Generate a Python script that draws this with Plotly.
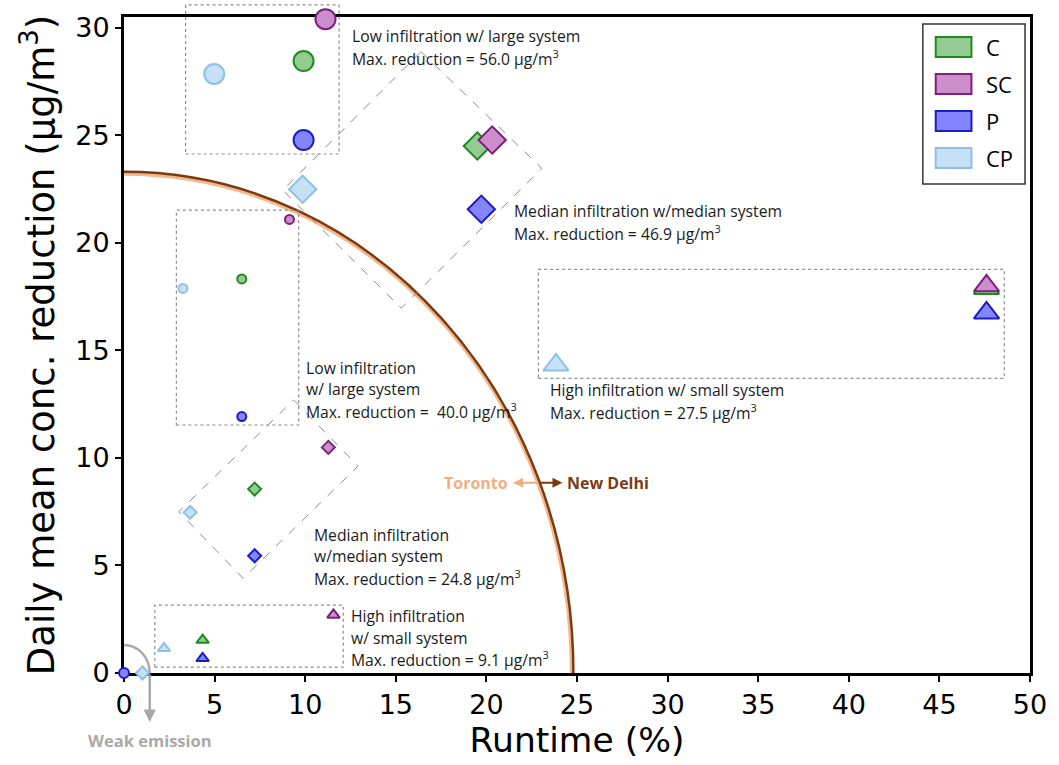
import plotly.graph_objects as go

# ---- series -------------------------------------------------------------
systems = ["C", "SC", "P", "CP"]
fill_colors = ["#93cb93", "#cc8fcc", "#8484ff", "#c6e1f5"]
edge_colors = ["#1f8a1f", "#7d1f7d", "#1c1cc6", "#8cc1e6"]

# New Delhi (large markers)
nd_low_runtime = [9.91, 11.12, 9.91, 4.98]
nd_low_reduction = [28.45, 30.40, 24.78, 27.85]
nd_med_runtime = [19.50, 20.32, 19.72, 9.86]
nd_med_reduction = [24.50, 24.78, 21.56, 22.49]
nd_high_runtime = [47.6, 47.6, 47.6, 23.84]
nd_high_reduction = [17.88, 18.00, 16.74, 14.32]

# Toronto (small markers)
to_low_runtime = [6.50, 9.13, 6.50, 3.25]
to_low_reduction = [18.32, 21.09, 11.92, 17.88]
to_med_runtime = [7.21, 11.28, 7.21, 3.65]
to_med_reduction = [8.55, 10.49, 5.45, 7.47]
to_high_runtime = [4.34, 11.56, 4.34, 2.21]
to_high_reduction = [1.53, 2.70, 0.68, 1.15]

# weak emission case
weak_systems = ["P", "CP"]
weak_symbols = ["circle", "diamond"]
weak_runtime = [0.0, 1.02]
weak_reduction = [0.0, 0.0]

x_ticks = list(range(0, 51, 5))
y_ticks = list(range(0, 31, 5))
X_RANGE = [0, 50]
Y_RANGE = [0, 30.5]

# group outlines (data units)
box_nd_low = (3.40, 11.87, 24.13, 31.06)      # x0, x1, y0, y1
box_to_low = (2.89, 9.64, 11.53, 21.52)
box_nd_high = (22.87, 48.58, 13.70, 18.77)
box_to_high = (1.70, 12.10, 0.27, 3.16)
diamond_nd_med = [(16.39, 28.89), (23.06, 23.46), (15.30, 16.96), (8.76, 22.45)]
diamond_to_med = [(9.36, 12.69), (12.92, 9.62), (6.57, 4.40), (3.03, 7.50)]

# break-even curve between the two cities
curve_runtime = 24.8
curve_reduction = 23.3
weak_runtime_edge = 1.42
weak_reduction_edge = 1.3

W, H = 1059, 765
M = dict(l=124, r=22, t=17, b=92)
PW, PH = W - M["l"] - M["r"], H - M["t"] - M["b"]
TEXT_FONT = "Open Sans"
AXIS_FONT = "DejaVu Sans"


def to_paper(x, y):
    return ((x - X_RANGE[0]) / (X_RANGE[1] - X_RANGE[0]),
            (y - Y_RANGE[0]) / (Y_RANGE[1] - Y_RANGE[0]))


def px_paper(px, py):
    return (px - M["l"]) / PW, (H - M["b"] - py) / PH


fig = go.Figure()


def add_group(xs, ys, symbol, size, names):
    idx = [systems.index(n) for n in names]
    fig.add_trace(go.Scatter(
        x=xs, y=ys, mode="markers", text=names, showlegend=False,
        cliponaxis=False,
        marker=dict(symbol=symbol, size=size,
                    color=[fill_colors[i] for i in idx],
                    line=dict(color=[edge_colors[i] for i in idx], width=2)),
    ))


add_group(nd_low_runtime, nd_low_reduction, "circle", 20, systems)
add_group(nd_med_runtime, nd_med_reduction, "diamond", 21, systems)
add_group(nd_high_runtime, nd_high_reduction, "triangle-up", 22, systems)
add_group(to_low_runtime, to_low_reduction, "circle", 9, systems)
add_group(to_med_runtime, to_med_reduction, "diamond", 10, systems)
add_group(to_high_runtime, to_high_reduction, "triangle-up", 11, systems)
add_group(weak_runtime, weak_reduction, weak_symbols, 10, weak_systems)

shapes = []
outline = dict(color="#8c8c8c", width=1.2, dash="dot")
for bx in (box_nd_low, box_to_low, box_nd_high, box_to_high):
    x0, y0 = to_paper(bx[0], bx[2])
    x1, y1 = to_paper(bx[1], bx[3])
    shapes.append(dict(type="rect", xref="paper", yref="paper",
                       x0=x0, y0=y0, x1=x1, y1=y1, line=outline))
for dm in (diamond_nd_med, diamond_to_med):
    pts = [to_paper(x, y) for x, y in dm]
    path = "M " + " L ".join(f"{px:.5f},{py:.5f}" for px, py in pts) + " Z"
    shapes.append(dict(type="path", xref="paper", yref="paper", path=path,
                       line=dict(color="#8c8c8c", width=1, dash="dash")))

K = 0.5523


def quarter_arc(rx, ry):
    return (f"M 0,{ry} C {K * rx:.4f},{ry} {rx},{K * ry:.4f} {rx},0")


shapes.append(dict(type="path", xref="x", yref="y", layer="below",
                   path=quarter_arc(curve_runtime - 0.1, curve_reduction - 0.1),
                   line=dict(color="#f4b68a", width=3.5)))
shapes.append(dict(type="path", xref="x", yref="y", layer="below",
                   path=quarter_arc(curve_runtime, curve_reduction),
                   line=dict(color="#7a3b10", width=2.5)))
shapes.append(dict(type="path", xref="x", yref="y", layer="below",
                   path=quarter_arc(weak_runtime_edge, weak_reduction_edge),
                   line=dict(color="#a9a9a9", width=2.5)))

# legend drawn as swatches
lx0, ly0 = px_paper(929, 184)
lx1, ly1 = px_paper(1032, 24)
shapes.append(dict(type="rect", xref="paper", yref="paper", x0=lx0, y0=ly0,
                   x1=lx1, y1=ly1, line=dict(color="#333333", width=1.5),
                   fillcolor="white"))
annotations = []
for i, name in enumerate(systems):
    cy = 47 + 37 * i
    sx0, sy0 = px_paper(942, cy + 10)
    sx1, sy1 = px_paper(978, cy - 10)
    shapes.append(dict(type="rect", xref="paper", yref="paper",
                       x0=sx0, y0=sy0, x1=sx1, y1=sy1,
                       fillcolor=fill_colors[i],
                       line=dict(color=edge_colors[i], width=2)))
    tx, ty = px_paper(991, cy)
    annotations.append(dict(xref="paper", yref="paper", x=tx, y=ty,
                            text=name, showarrow=False, xanchor="left",
                            yanchor="middle",
                            font=dict(family=TEXT_FONT, size=22, color="black")))

# scenario labels, one annotation per line
group_labels = [
    (["Low infiltration w/ large system",
      "Max. reduction = 56.0 μg/m<sup>3</sup>"], 12.49, 29.10),
    (["Median infiltration w/median system",
      "Max. reduction = 46.9 μg/m<sup>3</sup>"], 21.41, 20.97),
    (["High infiltration w/ small system",
      "Max. reduction = 27.5 μg/m<sup>3</sup>"], 23.42, 12.65),
    (["Low infiltration", "w/ large system",
      "Max. reduction =  40.0 μg/m<sup>3</sup>"], 9.91, 13.20),
    (["Median infiltration", "w/median system",
      "Max. reduction = 24.8 μg/m<sup>3</sup>"], 10.35, 5.44),
    (["High infiltration", "w/ small system",
      "Max. reduction = 9.1 μg/m<sup>3</sup>"], 12.43, 1.63),
]
line_pitch = 21.5 / (PH / (Y_RANGE[1] - Y_RANGE[0]))
for lines, x, yc in group_labels:
    n = len(lines)
    for i, line in enumerate(lines):
        annotations.append(dict(
            x=x, y=yc + ((n - 1) / 2 - i) * line_pitch, xref="x", yref="y",
            text=line, showarrow=False, xanchor="left", yanchor="middle",
            font=dict(family=TEXT_FONT, size=15.7, color="#1a1a1a")))

# city arrows across the curve
arrow_y = 8.84
annotations += [
    dict(x=21.47, y=arrow_y, xref="x", yref="y", ax=25, ay=0, text="",
         showarrow=True, arrowhead=2, arrowsize=1, arrowwidth=2,
         arrowcolor="#f0ae80"),
    dict(x=24.20, y=arrow_y, xref="x", yref="y", ax=-25, ay=0, text="",
         showarrow=True, arrowhead=2, arrowsize=1, arrowwidth=2,
         arrowcolor="#7a3b10"),
    dict(x=21.30, y=arrow_y, xref="x", yref="y", text="<b>Toronto</b>",
         showarrow=False, xanchor="right", yanchor="middle",
         font=dict(family=TEXT_FONT, size=16, color="#f0ae80")),
    dict(x=24.32, y=arrow_y, xref="x", yref="y", text="<b>New Delhi</b>",
         showarrow=False, xanchor="left", yanchor="middle",
         font=dict(family=TEXT_FONT, size=16, color="#7a3b10")),
]

# weak emission pointer
_, head_y = px_paper(0, 722)
annotations += [
    dict(x=weak_runtime_edge, y=head_y, xref="x", yref="paper", ax=0, ay=-49,
         text="", showarrow=True, arrowhead=2, arrowsize=1, arrowwidth=2.5,
         arrowcolor="#a9a9a9"),
    dict(x=weak_runtime_edge, y=px_paper(0, 740)[1], xref="x", yref="paper",
         text="<b>Weak emission</b>", showarrow=False, xanchor="center",
         yanchor="middle",
         font=dict(family=TEXT_FONT, size=16.5, color="#a9a9a9")),
]

axis_common = dict(showline=True, linecolor="black", linewidth=3, mirror=True,
                   ticks="outside", ticklen=6, tickwidth=2, tickcolor="black",
                   showgrid=False, zeroline=False, layer="below traces",
                   tickfont=dict(family=AXIS_FONT, size=27, color="black"))

fig.update_layout(
    width=W, height=H, margin=M,
    paper_bgcolor="white", plot_bgcolor="white",
    showlegend=False,
    shapes=shapes, annotations=annotations,
    xaxis=dict(range=X_RANGE, tickvals=x_ticks, **axis_common,
               title=dict(text="Runtime (%)", standoff=7,
                          font=dict(family=AXIS_FONT, size=34.5, color="black"))),
    yaxis=dict(range=Y_RANGE, tickvals=y_ticks, **axis_common,
               title=dict(text="Daily mean conc. reduction (μg/m<sup>3</sup>)",
                          standoff=10,
                          font=dict(family=AXIS_FONT, size=37, color="black"))),
)

fig.write_html("out.html")
